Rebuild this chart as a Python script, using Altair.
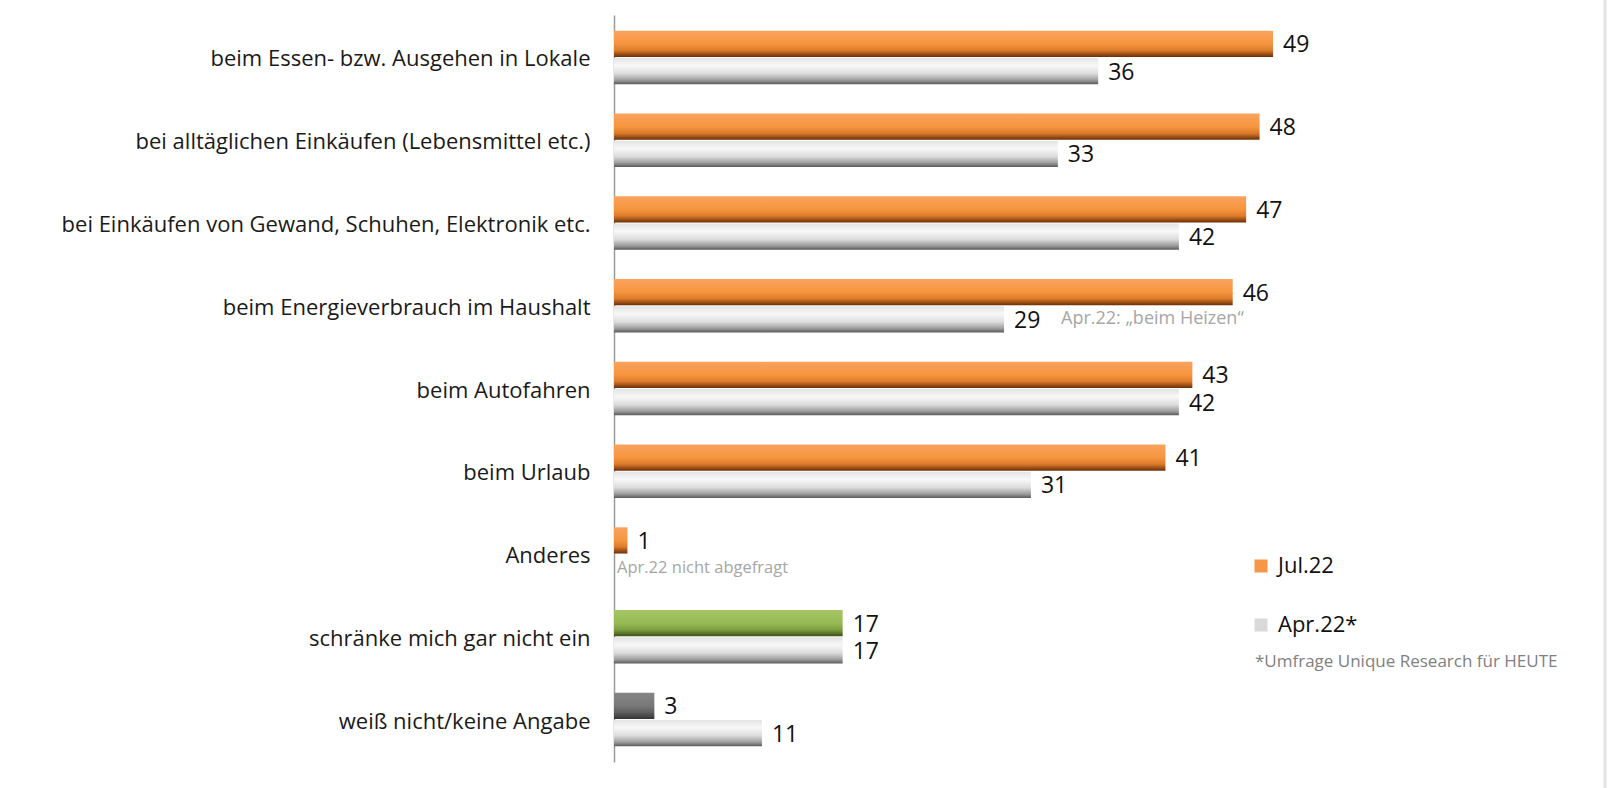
import altair as alt
import pandas as pd

categories = [
    "beim Essen- bzw. Ausgehen in Lokale",
    "bei alltäglichen Einkäufen (Lebensmittel etc.)",
    "bei Einkäufen von Gewand, Schuhen, Elektronik etc.",
    "beim Energieverbrauch im Haushalt",
    "beim Autofahren",
    "beim Urlaub",
    "Anderes",
    "schränke mich gar nicht ein",
    "weiß nicht/keine Angabe",
]
jul_values = [49, 48, 47, 46, 43, 41, 1, 17, 3]
apr_values = [36, 33, 42, 29, 42, 31, None, 17, 11]
jul_tones = ["orange"] * 7 + ["green", "dark"]
series = ["Jul.22", "Apr.22*"]
legend_colors = ["#F79646", "#D9D9D9"]
footnote = "*Umfrage Unique Research für HEUTE"
note_heizen = "Apr.22: \u201ebeim Heizen\u201c"
note_anderes = "Apr.22 nicht abgefragt"

rows = []
for c, v, t in zip(categories, jul_values, jul_tones):
    rows.append({"cat": c, "series": series[0], "value": v, "tone": t})
for c, v in zip(categories, apr_values):
    if v is not None:
        rows.append({"cat": c, "series": series[1], "value": v, "tone": "grey"})
df = pd.DataFrame(rows)


def grad(stops):
    return alt.Gradient(
        gradient="linear", x1=0, y1=0, x2=0, y2=1,
        stops=[alt.GradientStop(offset=o, color=c) for o, c in stops],
    )


gradients = {
    "orange": grad([(0, "#F9A35E"), (0.5, "#F7953F"), (0.75, "#DC7B2A"), (1, "#6B2E08")]),
    "grey": grad([(0, "#E4E4E4"), (0.3, "#F8F8F8"), (0.6, "#DCDCDC"), (0.85, "#9C9C9C"), (1, "#5A5A5A")]),
    "green": grad([(0, "#A6C666"), (0.5, "#98BA55"), (0.75, "#7E9E40"), (1, "#3C5018")]),
    "dark": grad([(0, "#858585"), (0.5, "#787878"), (0.75, "#5E5E5E"), (1, "#333333")]),
}

FONT = "Open Sans"
PX_PER_UNIT = 13.45
XMAX = 60
W = round(XMAX * PX_PER_UNIT)
H = 747
LEFT = 614
TOP = 15
BAR_H = 26.2
OFF = 13.6
series_off = {series[0]: -OFF, series[1]: OFF}

y_enc = alt.Y("cat:N",
              scale=alt.Scale(domain=categories, paddingInner=0.354, paddingOuter=0.19),
              axis=alt.Axis(title=None, ticks=False, domainColor="#9A9A9A", domainWidth=1.5,
                            labelFontSize=22, labelFont=FONT, labelColor="#1A1A1A",
                            labelPadding=24, labelLimit=700, labelOffset=2, grid=False))
x_enc = alt.X("value:Q", scale=alt.Scale(domain=[0, XMAX], nice=False), axis=None)
x_nostack = alt.X("value:Q", stack=False, scale=alt.Scale(domain=[0, XMAX], nice=False), axis=None)

base = alt.Chart(df)

layers = []
for tone, g in gradients.items():
    s = series[1] if tone == "grey" else series[0]
    layers.append(
        base.transform_filter(alt.datum.tone == tone)
        .mark_bar(fill=g, strokeWidth=0, height=BAR_H, yOffset=series_off[s])
        .encode(x=x_enc, y=y_enc)
    )

legend_layer = base.transform_filter(alt.datum.tone == "orange").mark_bar(
    strokeWidth=0, height=1, opacity=0
).encode(
    x=x_nostack,
    y=y_enc,
    color=alt.Color("series:N",
                    scale=alt.Scale(domain=series, range=legend_colors),
                    legend=alt.Legend(orient="none", legendX=636, legendY=540, title=None,
                                      direction="vertical", labelFontSize=22, labelFont=FONT,
                                      labelColor="#111111", symbolType="square", symbolSize=169,
                                      symbolStrokeWidth=0, symbolOpacity=1, rowPadding=37,
                                      labelOffset=6, padding=0)),
)
layers.append(legend_layer)

for s in series:
    layers.append(
        base.transform_filter(alt.datum.series == s)
        .mark_text(align="left", baseline="middle", dx=10, dy=1.5, yOffset=series_off[s],
                   fontSize=23, font=FONT, color="#111111")
        .encode(x=x_enc, y=y_enc, text="value:Q")
    )

note1 = alt.Chart(pd.DataFrame({"cat": [categories[3]], "value": [apr_values[3]],
                                "t": [note_heizen]})).mark_text(
    align="left", baseline="middle", dx=57, yOffset=OFF, fontSize=18, font=FONT,
    color="#A6A6A6"
).encode(x=x_enc, y=y_enc, text="t:N")

note2 = alt.Chart(pd.DataFrame({"cat": [categories[6]], "value": [0],
                                "t": [note_anderes]})).mark_text(
    align="left", baseline="middle", dx=3, yOffset=OFF, fontSize=16.5, font=FONT,
    color="#A6A6A6"
).encode(x=x_enc, y=y_enc, text="t:N")

foot = alt.Chart(pd.DataFrame({"t": [footnote]})).mark_text(
    align="left", baseline="middle", fontSize=17, font=FONT, color="#808080"
).encode(x=alt.value(641), y=alt.value(647), text="t:N")

border = alt.Chart(pd.DataFrame({"a": [0]})).mark_rule(color="#E2E2E2", strokeWidth=3).encode(
    x=alt.value(991), y=alt.value(-TOP), y2=alt.value(788)
)

layers += [note1, note2, foot, border]

chart = alt.layer(*layers).properties(
    width=W, height=H,
    autosize=alt.AutoSizeParams(type="none"),
    padding={"left": LEFT, "top": TOP, "right": 1616 - LEFT - W, "bottom": 788 - TOP - H},
    background="white",
).configure_view(strokeWidth=0)

chart.save("out.html", embed_options={"renderer": "svg", "actions": False})
